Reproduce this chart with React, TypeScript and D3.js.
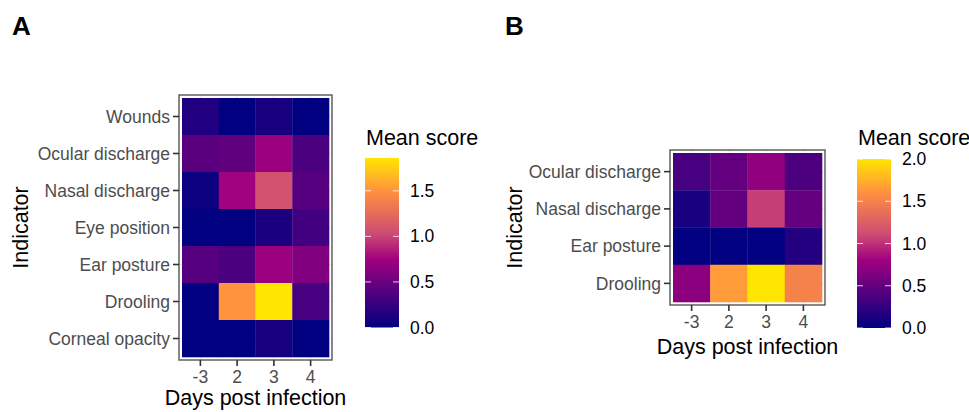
import React from 'react'
import * as d3 from 'd3'

const [W, H] = [969, 412]
const FONT = '"Liberation Sans", Arial, Helvetica, sans-serif'

const daysA = ['-3', '2', '3', '4']
const indicatorsA = ['Wounds', 'Ocular discharge', 'Nasal discharge', 'Eye position', 'Ear posture', 'Drooling', 'Corneal opacity']
const scoresA = [
  [0.15, 0, 0.1, 0],
  [0.42, 0.45, 0.72, 0.35],
  [0.05, 0.75, 1.08, 0.4],
  [0, 0, 0.12, 0.3],
  [0.4, 0.35, 0.72, 0.6],
  [0, 1.5, 1.86, 0.33],
  [0, 0, 0.1, 0],
]
const legendTicksA = [0, 0.5, 1, 1.5]

const daysB = ['-3', '2', '3', '4']
const indicatorsB = ['Ocular discharge', 'Nasal discharge', 'Ear posture', 'Drooling']
const scoresB = [
  [0.35, 0.5, 0.72, 0.38],
  [0.12, 0.5, 1.05, 0.5],
  [0, 0, 0, 0.17],
  [0.7, 1.65, 2.0, 1.5],
]
const legendTicksB = [0, 0.5, 1, 1.5, 2]

// gradient stops (fraction of the colour range -> colour)
const stopFrac = [0, 0.4, 0.55, 0.8, 1]
const stopCols = ['#000080', '#a0007f', '#cc4a74', '#ff9040', '#ffe600']

function makeColor(max: number) {
  return d3.scaleLinear<string>()
    .domain(stopFrac.map(f => f * max))
    .range(stopCols)
    .interpolate(d3.interpolateRgb)
    .clamp(true)
}

type Props = {
  id: string
  label: string
  labelX: number
  days: string[]
  indicators: string[]
  scores: number[][]
  max: number
  legendTicks: number[]
  tiles: { x0: number, x1: number, y0: number, y1: number }
  bar: { x: number, y0: number, y1: number }
  titleY: number
  xTitleY: number
  yTitleX: number
}

function Heatmap(p: Props) {
  const x = d3.scaleBand().domain(p.days).range([p.tiles.x0, p.tiles.x1])
  const y = d3.scaleBand().domain(p.indicators).range([p.tiles.y0, p.tiles.y1])
  const color = makeColor(p.max)
  const bx0 = p.tiles.x0 - 3, bx1 = p.tiles.x1 + 3
  const by0 = p.tiles.y0 - 3, by1 = p.tiles.y1 + 3
  const barW = 34
  const ly = d3.scaleLinear().domain([0, p.max]).range([p.bar.y1, p.bar.y0])
  const gradId = 'grad-' + p.id

  return (
    <g>
      <text x={p.labelX} y={35} fontSize={26} fontWeight="bold" fontFamily={FONT}>{p.label}</text>
      {/* grid */}
      {p.days.map(d => (
        <line key={'gx' + d} x1={x(d)! + x.bandwidth() / 2} x2={x(d)! + x.bandwidth() / 2} y1={by0} y2={by1} stroke="#ebebeb" />
      ))}
      {p.indicators.map(d => (
        <line key={'gy' + d} y1={y(d)! + y.bandwidth() / 2} y2={y(d)! + y.bandwidth() / 2} x1={bx0} x2={bx1} stroke="#ebebeb" />
      ))}
      {p.scores.map((row, i) => row.map((v, j) => (
        <rect key={i + '-' + j} x={x(p.days[j])} y={y(p.indicators[i])}
          width={x.bandwidth() + 0.3} height={y.bandwidth() + 0.3} fill={color(v)} />
      )))}
      <rect x={bx0} y={by0} width={bx1 - bx0} height={by1 - by0} fill="none" stroke="#555" strokeWidth={1.4} />
      {/* y axis */}
      {p.indicators.map(d => {
        const cy = y(d)! + y.bandwidth() / 2
        return (
          <g key={'ty' + d}>
            <line x1={bx0 - 6} x2={bx0} y1={cy} y2={cy} stroke="#333" strokeWidth={1.6} />
            <text x={bx0 - 9} y={cy} dy="0.35em" textAnchor="end" fontSize={17.5} fill="#4d4d4d" fontFamily={FONT}>{d}</text>
          </g>
        )
      })}
      {/* x axis */}
      {p.days.map(d => {
        const cx = x(d)! + x.bandwidth() / 2
        return (
          <g key={'tx' + d}>
            <line x1={cx} x2={cx} y1={by1} y2={by1 + 6} stroke="#333" strokeWidth={1.6} />
            <text x={cx} y={by1 + 23} textAnchor="middle" fontSize={17.5} fill="#4d4d4d" fontFamily={FONT}>{d}</text>
          </g>
        )
      })}
      <text x={(bx0 + bx1) / 2} y={p.xTitleY} textAnchor="middle" fontSize={21.5} fontFamily={FONT}>Days post infection</text>
      <text transform={`translate(${p.yTitleX},${(by0 + by1) / 2}) rotate(-90)`} textAnchor="middle" fontSize={21.5} fontFamily={FONT}>Indicator</text>
      {/* legend */}
      <defs>
        <linearGradient id={gradId} x1="0" x2="0" y1="1" y2="0">
          {stopFrac.map((f, i) => <stop key={i} offset={f} stopColor={stopCols[i]} />)}
        </linearGradient>
      </defs>
      <text x={p.bar.x + 1} y={p.titleY} fontSize={21.5} fontFamily={FONT}>Mean score</text>
      <rect x={p.bar.x} y={p.bar.y0} width={barW} height={p.bar.y1 - p.bar.y0} fill={`url(#${gradId})`} />
      {p.legendTicks.map(t => (
        <g key={'lt' + t}>
          <line x1={p.bar.x} x2={p.bar.x + 6} y1={ly(t)} y2={ly(t)} stroke="white" strokeOpacity={0.8} />
          <line x1={p.bar.x + barW - 6} x2={p.bar.x + barW} y1={ly(t)} y2={ly(t)} stroke="white" strokeOpacity={0.8} />
          <text x={p.bar.x + barW + 11} y={ly(t)} dy="0.35em" fontSize={17.5} fill="black" fontFamily={FONT}>{t.toFixed(1)}</text>
        </g>
      ))}
    </g>
  )
}

export default function App() {
  return (
    <svg width={W} height={H} style={{ position: 'absolute', left: 0, top: 0, background: 'white' }}>
      <Heatmap id="a" label="A" labelX={12} days={daysA} indicators={indicatorsA} scores={scoresA}
        max={1.86} legendTicks={legendTicksA}
        tiles={{ x0: 182, x1: 329, y0: 98, y1: 357 }}
        bar={{ x: 365, y0: 158, y1: 327.5 }} titleY={145} xTitleY={405} yTitleX={28} />
      <Heatmap id="b" label="B" labelX={505} days={daysB} indicators={indicatorsB} scores={scoresB}
        max={2} legendTicks={legendTicksB}
        tiles={{ x0: 673, x1: 822, y0: 153, y1: 302 }}
        bar={{ x: 857, y0: 159, y1: 328 }} titleY={145} xTitleY={354} yTitleX={522} />
    </svg>
  )
}
